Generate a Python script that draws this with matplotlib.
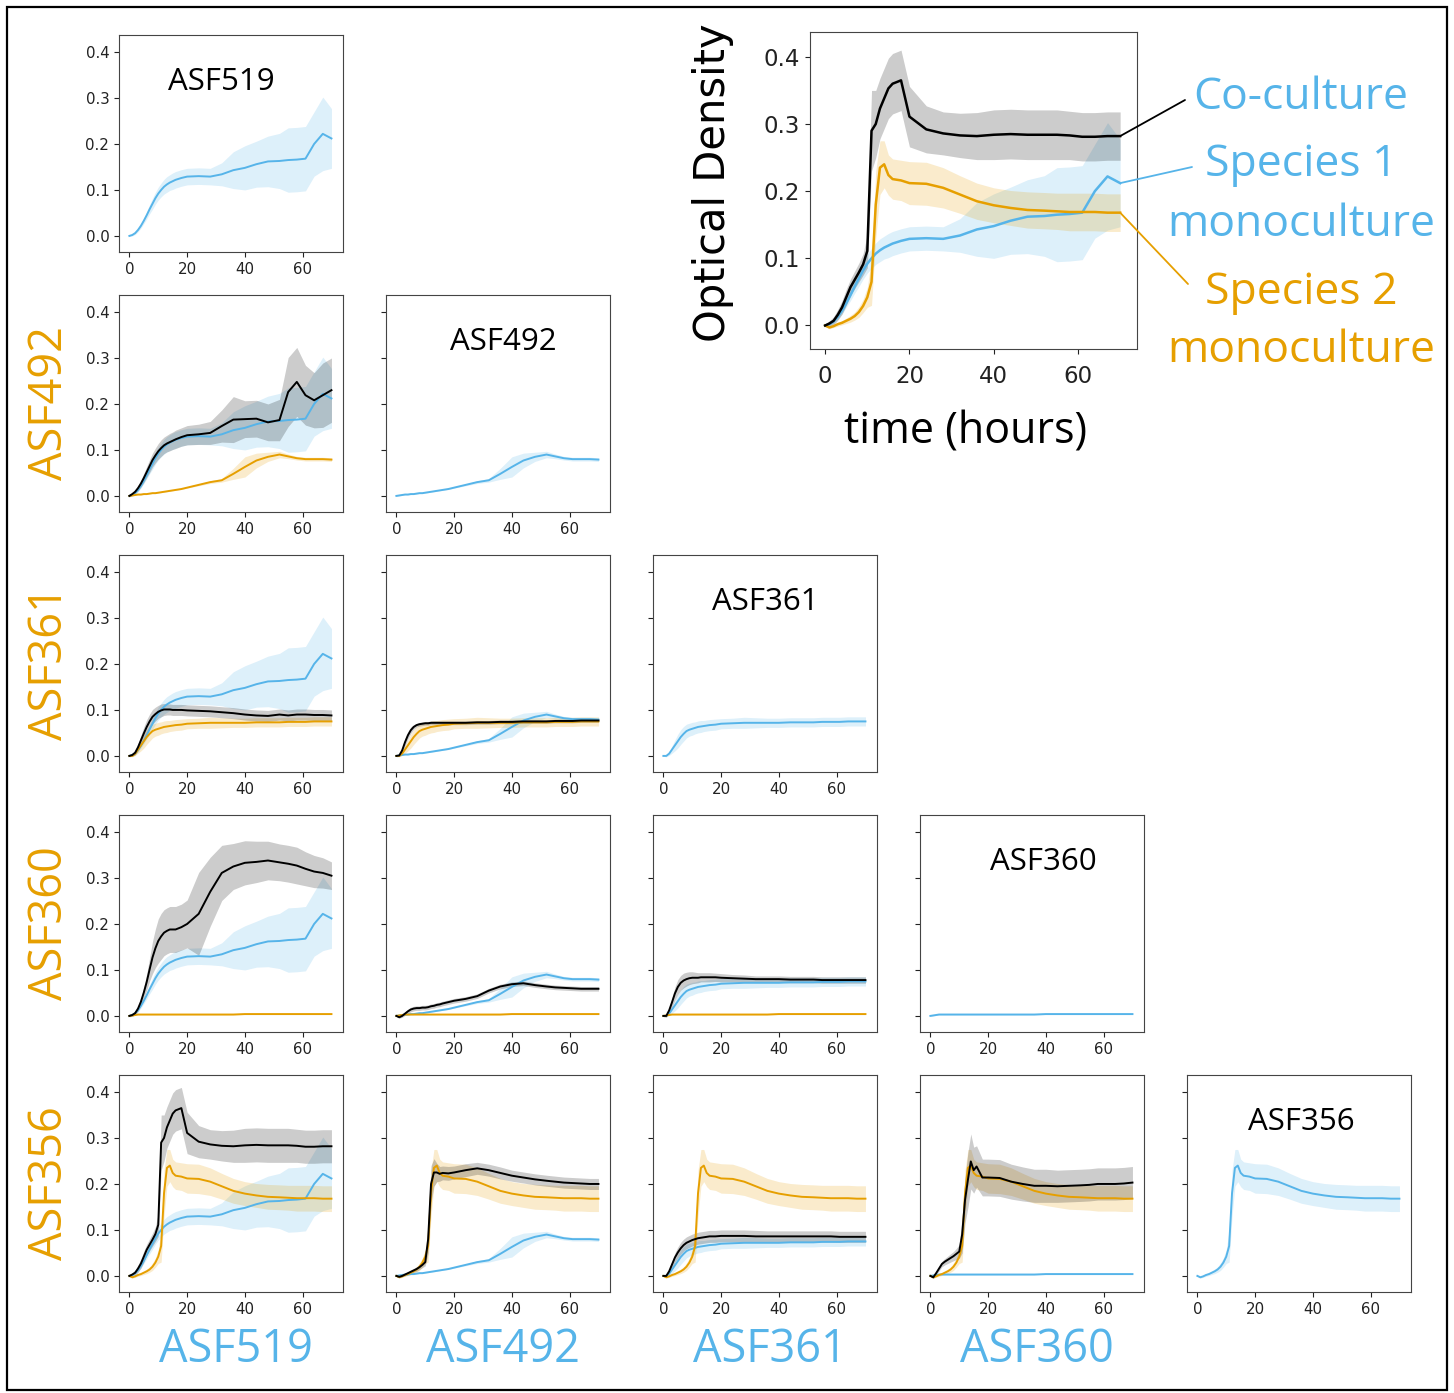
import numpy as np
import matplotlib.pyplot as plt
from matplotlib.patches import Rectangle

# species in grid order (columns = species 1, rows = species 2)
species = ['ASF519', 'ASF492', 'ASF361', 'ASF360', 'ASF356']

# sampling times (hours), shared by every curve
hours = [0, 1, 2, 3, 4, 5, 6, 7, 8, 9, 10, 11, 12, 13, 14, 15, 16, 18, 20,
         24, 28, 32, 36, 40, 44, 48, 52, 55, 58, 61, 64, 67, 70]

# monoculture means / std
mono_519 = [0, 0.002, 0.006, 0.013, 0.022, 0.033, 0.045, 0.058, 0.07, 0.082, 0.092, 0.1, 0.107, 0.112, 0.116, 0.119, 0.122,
            0.126, 0.129, 0.13, 0.129, 0.134, 0.143, 0.148, 0.156, 0.162, 0.163, 0.165, 0.166, 0.168, 0.2, 0.222, 0.212]
sd_519 = [0.001, 0.002, 0.003, 0.004, 0.005, 0.006, 0.008, 0.01, 0.012, 0.013, 0.014, 0.015, 0.016, 0.017, 0.017, 0.018, 0.018,
          0.018, 0.018, 0.018, 0.018, 0.025, 0.04, 0.048, 0.05, 0.055, 0.06, 0.07, 0.07, 0.07, 0.07, 0.08, 0.065]

mono_492 = [0, 0.001, 0.002, 0.003, 0.003, 0.004, 0.004, 0.005, 0.006, 0.006, 0.007, 0.008, 0.009, 0.01, 0.011, 0.012, 0.013,
            0.015, 0.018, 0.024, 0.03, 0.034, 0.048, 0.063, 0.077, 0.085, 0.09, 0.086, 0.082, 0.08, 0.08, 0.08, 0.079]
sd_492 = [0.001, 0.001, 0.001, 0.001, 0.001, 0.001, 0.001, 0.001, 0.001, 0.001, 0.001, 0.001, 0.001, 0.001, 0.001, 0.001, 0.001,
          0.001, 0.001, 0.002, 0.003, 0.004, 0.012, 0.022, 0.016, 0.01, 0.007, 0.005, 0.004, 0.004, 0.004, 0.004, 0.004]

mono_361 = [0, 0.0, 0.005, 0.014, 0.023, 0.032, 0.041, 0.048, 0.054, 0.057, 0.059, 0.061, 0.063, 0.064, 0.065, 0.066, 0.067,
            0.068, 0.07, 0.071, 0.072, 0.072, 0.072, 0.072, 0.073, 0.073, 0.073, 0.074, 0.074, 0.074, 0.075, 0.075, 0.075]
sd_361 = [0.001, 0.002, 0.004, 0.008, 0.012, 0.015, 0.016, 0.016, 0.015, 0.014, 0.014, 0.013, 0.013, 0.013, 0.012, 0.012, 0.012,
          0.012, 0.011, 0.011, 0.012, 0.011, 0.01, 0.01, 0.01, 0.01, 0.01, 0.01, 0.01, 0.01, 0.01, 0.01, 0.01]

mono_360 = [0, 0.001, 0.002, 0.003, 0.003, 0.003, 0.003, 0.003, 0.003, 0.003, 0.003, 0.003, 0.003, 0.003, 0.003, 0.003, 0.003,
            0.003, 0.003, 0.003, 0.003, 0.003, 0.003, 0.004, 0.004, 0.004, 0.004, 0.004, 0.004, 0.004, 0.004, 0.004, 0.004]
sd_360 = [0.001] * 33

mono_356 = [0, -0.003, -0.001, 0.002, 0.004, 0.007, 0.01, 0.014, 0.02, 0.029, 0.042, 0.065, 0.18, 0.235, 0.24, 0.224, 0.218,
            0.216, 0.212, 0.211, 0.205, 0.195, 0.185, 0.179, 0.175, 0.172, 0.171, 0.17, 0.169, 0.169, 0.169, 0.168, 0.168]
sd_356 = [0.001, 0.002, 0.002, 0.003, 0.003, 0.004, 0.005, 0.006, 0.008, 0.01, 0.015, 0.035, 0.05, 0.04, 0.035, 0.03, 0.03,
          0.03, 0.032, 0.032, 0.03, 0.028, 0.027, 0.026, 0.026, 0.027, 0.027, 0.027, 0.028, 0.028, 0.028, 0.028, 0.028]

# co-culture means / std  (row species x column species)
co_492_519 = [0, 0.004, 0.009, 0.017, 0.027, 0.039, 0.052, 0.065, 0.078, 0.088, 0.097, 0.104, 0.11, 0.114, 0.117, 0.12, 0.123,
              0.128, 0.132, 0.134, 0.137, 0.152, 0.166, 0.167, 0.168, 0.16, 0.165, 0.226, 0.248, 0.219, 0.208, 0.219, 0.23]
sd_492_519 = [0.002, 0.003, 0.004, 0.006, 0.008, 0.01, 0.012, 0.014, 0.015, 0.016, 0.017, 0.018, 0.018, 0.018, 0.019, 0.019, 0.02,
              0.02, 0.021, 0.022, 0.025, 0.035, 0.05, 0.04, 0.04, 0.04, 0.045, 0.075, 0.075, 0.065, 0.06, 0.07, 0.07]

co_361_519 = [0, 0.002, 0.007, 0.019, 0.034, 0.049, 0.063, 0.075, 0.085, 0.091, 0.096, 0.099, 0.101, 0.101, 0.101, 0.1, 0.1,
              0.1, 0.099, 0.098, 0.097, 0.095, 0.093, 0.09, 0.088, 0.087, 0.09, 0.088, 0.09, 0.09, 0.089, 0.089, 0.088]
sd_361_519 = [0.002, 0.003, 0.005, 0.008, 0.011, 0.014, 0.016, 0.016, 0.016, 0.015, 0.014, 0.014, 0.013, 0.012, 0.012, 0.012, 0.012,
              0.012, 0.012, 0.012, 0.012, 0.012, 0.012, 0.012, 0.012, 0.012, 0.012, 0.012, 0.012, 0.012, 0.012, 0.012, 0.012]

co_361_492 = [0, 0.001, 0.012, 0.03, 0.045, 0.056, 0.063, 0.067, 0.069, 0.07, 0.071, 0.071, 0.072, 0.072, 0.072, 0.072, 0.072,
              0.072, 0.072, 0.072, 0.073, 0.073, 0.074, 0.074, 0.075, 0.075, 0.075, 0.076, 0.076, 0.076, 0.077, 0.077, 0.077]
sd_361_492 = [0.002, 0.002, 0.005, 0.008, 0.008, 0.007, 0.005, 0.004, 0.004, 0.004, 0.004, 0.004, 0.004, 0.004, 0.004, 0.004, 0.004,
              0.004, 0.004, 0.004, 0.004, 0.004, 0.004, 0.004, 0.004, 0.004, 0.004, 0.004, 0.004, 0.004, 0.004, 0.004, 0.004]

co_360_519 = [0, 0.002, 0.006, 0.016, 0.031, 0.051, 0.074, 0.101, 0.127, 0.147, 0.163, 0.173, 0.181, 0.185, 0.188, 0.188, 0.188,
              0.193, 0.2, 0.222, 0.27, 0.311, 0.325, 0.333, 0.335, 0.338, 0.334, 0.331, 0.327, 0.32, 0.314, 0.311, 0.305]
sd_360_519 = [0.002, 0.003, 0.004, 0.006, 0.008, 0.012, 0.018, 0.025, 0.035, 0.042, 0.048, 0.05, 0.05, 0.05, 0.05, 0.05, 0.05,
              0.05, 0.052, 0.09, 0.075, 0.06, 0.05, 0.048, 0.045, 0.042, 0.04, 0.04, 0.04, 0.037, 0.035, 0.033, 0.03]

co_360_492 = [0, -0.003, 0.0, 0.005, 0.01, 0.014, 0.016, 0.017, 0.017, 0.018, 0.018, 0.019, 0.021, 0.022, 0.024, 0.025, 0.027,
              0.03, 0.033, 0.037, 0.043, 0.055, 0.064, 0.069, 0.071, 0.067, 0.064, 0.062, 0.061, 0.06, 0.059, 0.059, 0.059]
sd_360_492 = [0.002, 0.002, 0.003, 0.004, 0.005, 0.005, 0.005, 0.005, 0.005, 0.005, 0.005, 0.005, 0.005, 0.005, 0.005, 0.005, 0.005,
              0.005, 0.005, 0.005, 0.005, 0.005, 0.005, 0.005, 0.005, 0.005, 0.005, 0.005, 0.005, 0.005, 0.005, 0.005, 0.005]

co_360_361 = [0, 0.0, 0.012, 0.03, 0.049, 0.063, 0.072, 0.077, 0.08, 0.082, 0.083, 0.083, 0.083, 0.084, 0.084, 0.084, 0.084,
              0.084, 0.083, 0.082, 0.081, 0.08, 0.08, 0.08, 0.079, 0.079, 0.079, 0.078, 0.078, 0.078, 0.078, 0.078, 0.078]
sd_360_361 = [0.002, 0.003, 0.006, 0.01, 0.014, 0.016, 0.016, 0.016, 0.015, 0.014, 0.013, 0.012, 0.011, 0.01, 0.01, 0.01, 0.01,
              0.009, 0.009, 0.008, 0.008, 0.007, 0.007, 0.007, 0.007, 0.007, 0.007, 0.007, 0.007, 0.007, 0.007, 0.007, 0.007]

co_356_519 = [0, 0.003, 0.007, 0.016, 0.027, 0.042, 0.057, 0.068, 0.079, 0.091, 0.111, 0.29, 0.3, 0.323, 0.338, 0.353, 0.36,
              0.365, 0.311, 0.292, 0.286, 0.283, 0.282, 0.284, 0.285, 0.284, 0.284, 0.284, 0.283, 0.281, 0.281, 0.282, 0.282]
sd_356_519 = [0.002, 0.004, 0.006, 0.008, 0.01, 0.012, 0.012, 0.013, 0.014, 0.016, 0.025, 0.06, 0.05, 0.045, 0.045, 0.045, 0.045,
              0.045, 0.045, 0.035, 0.032, 0.033, 0.035, 0.037, 0.037, 0.037, 0.037, 0.037, 0.036, 0.036, 0.036, 0.036, 0.036]

co_356_492 = [0, -0.002, 0.0, 0.003, 0.006, 0.009, 0.012, 0.015, 0.019, 0.024, 0.03, 0.08, 0.2, 0.225, 0.225, 0.222, 0.224,
              0.223, 0.225, 0.23, 0.234, 0.23, 0.224, 0.218, 0.214, 0.21, 0.207, 0.205, 0.203, 0.202, 0.201, 0.2, 0.2]
sd_356_492 = [0.002, 0.002, 0.002, 0.003, 0.003, 0.004, 0.004, 0.005, 0.005, 0.006, 0.008, 0.03, 0.04, 0.03, 0.02, 0.016, 0.015,
              0.015, 0.014, 0.014, 0.013, 0.013, 0.013, 0.012, 0.012, 0.012, 0.012, 0.012, 0.012, 0.012, 0.012, 0.012, 0.012]

co_356_361 = [0, 0.0, 0.01, 0.025, 0.04, 0.051, 0.06, 0.067, 0.072, 0.075, 0.078, 0.08, 0.082, 0.083, 0.084, 0.085, 0.086,
              0.086, 0.087, 0.087, 0.087, 0.086, 0.086, 0.086, 0.086, 0.086, 0.086, 0.086, 0.086, 0.085, 0.085, 0.085, 0.085]
sd_356_361 = [0.002, 0.003, 0.005, 0.008, 0.01, 0.012, 0.013, 0.013, 0.013, 0.013, 0.013, 0.013, 0.013, 0.013, 0.013, 0.013, 0.013,
              0.013, 0.013, 0.013, 0.013, 0.013, 0.012, 0.012, 0.012, 0.012, 0.012, 0.012, 0.012, 0.012, 0.012, 0.012, 0.012]

co_356_360 = [0, -0.003, 0.006, 0.016, 0.026, 0.031, 0.035, 0.039, 0.043, 0.048, 0.053, 0.09, 0.165, 0.209, 0.249, 0.23, 0.238,
              0.214, 0.214, 0.213, 0.205, 0.2, 0.196, 0.196, 0.195, 0.196, 0.197, 0.198, 0.2, 0.2, 0.2, 0.201, 0.203]
sd_356_360 = [0.002, 0.003, 0.004, 0.005, 0.006, 0.007, 0.008, 0.009, 0.01, 0.012, 0.015, 0.04, 0.05, 0.06, 0.06, 0.05, 0.045,
              0.04, 0.04, 0.04, 0.038, 0.037, 0.036, 0.036, 0.035, 0.035, 0.035, 0.035, 0.035, 0.035, 0.035, 0.035, 0.035]

mono = [(mono_519, sd_519), (mono_492, sd_492), (mono_361, sd_361), (mono_360, sd_360), (mono_356, sd_356)]
coculture = {
    (1, 0): (co_492_519, sd_492_519),
    (2, 0): (co_361_519, sd_361_519), (2, 1): (co_361_492, sd_361_492),
    (3, 0): (co_360_519, sd_360_519), (3, 1): (co_360_492, sd_360_492), (3, 2): (co_360_361, sd_360_361),
    (4, 0): (co_356_519, sd_356_519), (4, 1): (co_356_492, sd_356_492), (4, 2): (co_356_361, sd_356_361),
    (4, 3): (co_356_360, sd_356_360),
}

BLUE = '#56B4E9'
ORANGE = '#E69F00'
LABEL_FONT = ['Open Sans', 'DejaVu Sans']

W, H = 1454, 1393
fig = plt.figure(figsize=(W / 100, H / 100), dpi=100)


def px_box(left, top, w, h):
    return [left / W, 1 - (top + h) / H, w / W, h / H]


def fx(x):
    return x / W


def fy(y):
    return 1 - y / H


def draw_curve(ax, curve, color, lw):
    m, s = np.array(curve[0]), np.array(curve[1])
    ax.fill_between(hours, m - s, m + s, color=color, alpha=0.2, lw=0)
    ax.plot(hours, m, color=color, lw=lw)


def style_axes(ax, labelsize, show_ylabels, pad=3.5):
    ax.set_xlim(-3.6, 74)
    ax.set_ylim(-0.035, 0.437)
    ax.set_xticks([0, 20, 40, 60])
    ax.set_yticks([0, 0.1, 0.2, 0.3, 0.4])
    ax.tick_params(labelsize=labelsize, colors='#222222')
    ax.tick_params(axis='x', pad=pad)
    if not show_ylabels:
        ax.set_yticklabels([])
    for sp in ax.spines.values():
        sp.set_color('#444444')


title_x = [0.455, 0.525, 0.50, 0.55, 0.51]

for r in range(5):
    for c in range(r + 1):
        ax = fig.add_axes(px_box(119 + 267 * c, 35 + 260 * r, 224, 217))
        if r == c:
            draw_curve(ax, mono[r], BLUE, 1.4)
            ax.text(title_x[r], 0.785, species[r], transform=ax.transAxes, ha='center', va='center',
                    fontsize=22.5, family=LABEL_FONT)
        else:
            draw_curve(ax, mono[c], BLUE, 1.4)
            draw_curve(ax, mono[r], ORANGE, 1.4)
            draw_curve(ax, coculture[(r, c)], 'black', 1.4)
        style_axes(ax, 10.8, c == 0)

# row / column species labels
for r in range(1, 5):
    fig.text(fx(50), fy(35 + 260 * r + 108.5), species[r], rotation=90, ha='center', va='center',
             color=ORANGE, fontsize=32.5, family=LABEL_FONT)
for c in range(4):
    fig.text(fx(119 + 267 * c + 117), fy(1350), species[c], ha='center', va='center',
             color=BLUE, fontsize=32.5, family=LABEL_FONT)

# enlarged example panel
big = fig.add_axes(px_box(810, 32, 327, 317))
draw_curve(big, mono[0], BLUE, 1.8)
draw_curve(big, mono[4], ORANGE, 1.8)
draw_curve(big, coculture[(4, 0)], 'black', 1.8)
style_axes(big, 16.5, True, pad=8)
fig.text(fx(713), fy(183), 'Optical Density', rotation=90, ha='center', va='center', fontsize=30)
fig.text(fx(966), fy(432), 'time (hours)', ha='center', va='center', fontsize=31, family=LABEL_FONT)

legend_items = [('Co-culture', BLUE, 98), ('Species 1', BLUE, 165), ('monoculture', BLUE, 225),
                ('Species 2', ORANGE, 293), ('monoculture', ORANGE, 351)]
for txt, col, y in legend_items:
    fig.text(fx(1301), fy(y), txt, ha='center', va='center', color=col, fontsize=32, family=LABEL_FONT)

# pointer lines from curve ends to the legend words
ends = [(coculture[(4, 0)][0][-1], 'black', (1185, 100)),
        (mono[0][0][-1], BLUE, (1192, 167)),
        (mono[4][0][-1], ORANGE, (1188, 284))]
for yv, col, (px, py) in ends:
    big.annotate('', xy=(hours[-1], yv), xycoords='data', xytext=(fx(px), fy(py)),
                 textcoords='figure fraction',
                 arrowprops=dict(arrowstyle='-', color=col, lw=1.3, shrinkA=0, shrinkB=0))

fig.add_artist(Rectangle((fx(7), fy(1390)), 1440 / W, 1383 / H, transform=fig.transFigure,
                         fill=False, ec='black', lw=1.6))

fig.savefig('out.png', dpi=100)
